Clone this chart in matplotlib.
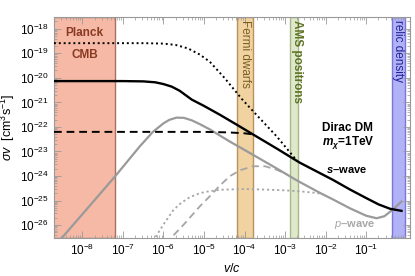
import numpy as np
import matplotlib
matplotlib.use("Agg")
import matplotlib.pyplot as plt
from matplotlib.ticker import LogLocator, NullFormatter

plt.rcParams['font.family'] = ['Liberation Sans', 'DejaVu Sans']
plt.rcParams['mathtext.fontset'] = 'custom'
plt.rcParams['mathtext.rm'] = 'Liberation Sans'
plt.rcParams['mathtext.it'] = 'Liberation Sans:italic'
plt.rcParams['mathtext.bf'] = 'Liberation Sans:bold'
plt.rcParams['mathtext.bfit'] = 'Liberation Sans:italic:bold'

# s-wave, full Sommerfeld (black solid)
s_v = [2e-9, 1e-7, 3.2e-7, 6.3e-7, 1e-6, 1.6e-6, 2.5e-6, 5e-6, 1e-5, 2.5e-5,
       6.3e-5, 1.6e-4, 6.3e-4, 2.3e-3, 1.5e-2, 4e-2, 0.1, 0.2, 0.39, 0.74]
s_sv = [7.4e-21, 7.4e-21, 7.2e-21, 6.6e-21, 5.6e-21, 4.4e-21, 3.0e-21, 1.3e-21, 7.2e-22, 3.1e-22,
        1.26e-22, 5e-23, 1.3e-23, 3.5e-24, 7e-25, 2.8e-25, 1.26e-25, 7e-26, 4.6e-26, 3.8e-26]

# s-wave, dotted black
s_dot_v = [2e-9, 3.2e-7, 1e-6, 2e-6, 4e-6, 7.9e-6, 1.4e-5, 3.2e-5, 8.5e-5, 1.6e-4, 6.3e-4, 1.95e-3]
s_dot_sv = [2.6e-19, 2.6e-19, 2.5e-19, 2.2e-19, 1.6e-19, 8.9e-20, 4.5e-20, 1e-20, 1.4e-21, 4.5e-22, 4e-23, 4.2e-24]

# s-wave, dashed black
s_dash_v = [2e-9, 1e-5, 4e-5, 1e-4, 1.6e-4]
s_dash_sv = [6.3e-23, 6.3e-23, 6e-23, 5.5e-23, 5e-23]

# p-wave (gray solid)
p_v = [2.5e-9, 1e-8, 6.3e-8, 2.6e-7, 5.5e-7, 1e-6, 1.4e-6, 2.1e-6, 3.2e-6, 5e-6, 7.9e-6, 1.4e-5, 2.5e-5,
       4.4e-5, 1.6e-4, 6.3e-4, 1.95e-3, 4.1e-3, 7.9e-3, 1.5e-2, 4e-2, 0.1, 0.18, 0.28, 0.43, 0.74]
p_sv = [1.95e-27, 2.75e-26, 9.3e-25, 1.6e-23, 6.3e-23, 1.4e-22, 1.95e-22, 2.4e-22, 2.35e-22, 1.86e-22,
        1.3e-22, 7.9e-23, 4.4e-23, 2.5e-23, 7.4e-24, 2e-24, 6.6e-25, 3.4e-25, 1.9e-25, 1.12e-25,
        4.8e-26, 2.4e-26, 1.9e-26, 2.3e-26, 4e-26, 9.1e-26]

# p-wave dashed gray
p_dash_v = [1.1e-6, 1.6e-6, 3.2e-6, 7.9e-6, 1.6e-5, 2.5e-5, 4.4e-5, 7.9e-5, 1.6e-4, 3.2e-4, 6.2e-4, 1.1e-3]
p_dash_sv = [1.8e-27, 3.2e-27, 1.07e-26, 5.8e-26, 1.9e-25, 4.2e-25, 1e-24, 1.74e-24, 2.5e-24, 2.5e-24, 1.8e-24, 1.17e-24]

# p-wave dotted gray
p_dot_v = [4e-7, 6.2e-7, 1e-6, 1.74e-6, 2.5e-6, 3.2e-6, 4.5e-6, 7.9e-6, 1.17e-5, 2.5e-5,
           1e-4, 3.2e-4, 1e-3, 2.5e-3, 5e-3, 7.9e-3]
p_dot_sv = [1e-27, 3e-27, 1.05e-26, 4e-26, 7.1e-26, 9.5e-26, 1.38e-25, 2e-25, 2.3e-25, 2.75e-25,
            2.95e-25, 2.8e-25, 2.6e-25, 2.35e-25, 2.1e-25, 1.9e-25]

# constraint bands (v/c ranges)
band_names = ["Planck CMB", "Fermi dwarfs", "AMS positrons", "relic density"]
band_lo = [1e-10, 6.5e-5, 1.35e-3, 0.44]
band_hi = [6.4e-8, 1.6e-4, 2.1e-3, 0.9]
band_face = ["#f5b9a6", "#f0d3a1", "#dfe8c8", "#b2b2f7"]
band_edge = ["#a9705f", "#b8935c", "#a8b88e", "#7878d8"]
band_text = ["#8a3a22", "#7a5e1e", "#5c7323", "#22229a"]

x_ticks = [1e-8, 1e-7, 1e-6, 1e-5, 1e-4, 1e-3, 1e-2, 1e-1]
x_labels = [r"$10^{-8}$", r"$10^{-7}$", r"$10^{-6}$", r"$10^{-5}$",
            r"$10^{-4}$", r"$10^{-3}$", r"$10^{-2}$", r"$10^{-1}$"]
y_ticks = [1e-26, 1e-25, 1e-24, 1e-23, 1e-22, 1e-21, 1e-20, 1e-19, 1e-18]
y_labels = [r"$10^{-26}$", r"$10^{-25}$", r"$10^{-24}$", r"$10^{-23}$", r"$10^{-22}$",
            r"$10^{-21}$", r"$10^{-20}$", r"$10^{-19}$", r"$10^{-18}$"]

fig = plt.figure(figsize=(4.15, 2.76), dpi=100)
ax = fig.add_axes([0.130, 0.138, 0.858, 0.800])

for lo, hi, fc, ec in zip(band_lo, band_hi, band_face, band_edge):
    ax.axvspan(lo, hi, facecolor=fc, edgecolor=ec, lw=1.0, zorder=0)

gray = "#9a9a9a"
ax.plot(p_dot_v, p_dot_sv, color="#a5a5a5", lw=1.3, ls=(0, (1.2, 1.6)), zorder=2)
ax.plot(p_dash_v, p_dash_sv, color="#a5a5a5", lw=1.3, ls=(0, (4, 2.5)), zorder=2)
ax.plot(p_v, p_sv, color=gray, lw=1.6, zorder=3)
ax.plot(s_dot_v, s_dot_sv, color="black", lw=1.4, ls=(0, (1.0, 1.5)), zorder=4)
ax.plot(s_dash_v, s_dash_sv, color="black", lw=1.4, ls=(0, (4, 2.5)), zorder=4)
ax.plot(s_v, s_sv, color="black", lw=1.7, zorder=5)

ax.set_xscale("log")
ax.set_yscale("log")
ax.set_xlim(2e-9, 1.2)
ax.set_ylim(3e-27, 3e-18)

ax.set_xticks(x_ticks, x_labels)
ax.set_yticks(y_ticks, y_labels)
for axis in (ax.xaxis, ax.yaxis):
    axis.set_minor_locator(LogLocator(base=10, subs=np.arange(2, 10), numticks=300))
    axis.set_minor_formatter(NullFormatter())

ax.tick_params(which="both", direction="in", top=True, right=True, colors="#999999",
               labelcolor="black", labelsize=8.5)
ax.tick_params(which="major", length=5, width=0.6)
ax.tick_params(which="minor", length=2.5, width=0.5)
for sp in ax.spines.values():
    sp.set_color("#999999")
    sp.set_linewidth(0.8)

ax.set_xlabel(r"$v$/$c$", fontsize=9, labelpad=3)
ax.set_ylabel(r"$\sigma v$  [cm$^{\mathrm{3}}$s$^{\mathrm{-1}}$]", fontsize=9, labelpad=2)

# band labels
ax.text(0.086, 0.928, "Planck", transform=ax.transAxes, ha="center", va="center",
        color=band_text[0], fontsize=8.5, fontweight="bold")
ax.text(0.086, 0.828, "CMB", transform=ax.transAxes, ha="center", va="center",
        color=band_text[0], fontsize=8.5, fontweight="bold")
ax.text(0.537, 0.985, "Fermi dwarfs", transform=ax.transAxes, ha="center", va="top",
        rotation=-90, color=band_text[1], fontsize=8.5)
ax.text(0.682, 0.985, "AMS positrons", transform=ax.transAxes, ha="center", va="top",
        rotation=-90, color=band_text[2], fontsize=8.5, fontweight="bold")
ax.text(0.966, 0.985, "relic density", transform=ax.transAxes, ha="center", va="top",
        rotation=-90, color=band_text[3], fontsize=8.5)

ax.text(0.823, 0.498, "Dirac DM", transform=ax.transAxes, ha="center", va="center",
        fontsize=8.5, fontweight="bold")
ax.text(0.826, 0.43, r"$\mathbfit{m}_{\mathbfit{\chi}}$=1TeV", transform=ax.transAxes,
        ha="center", va="center", fontsize=8.5, fontweight="bold")
ax.text(0.823, 0.308, r"$\mathbfit{s}$–wave", transform=ax.transAxes, ha="center", va="center",
        fontsize=8, fontweight="bold")
ax.text(0.846, 0.059, r"$\mathit{p}$–wave", transform=ax.transAxes, ha="center", va="center",
        fontsize=8, fontweight="bold", color="#a8a8a8")

fig.savefig("out.png", dpi=100)
